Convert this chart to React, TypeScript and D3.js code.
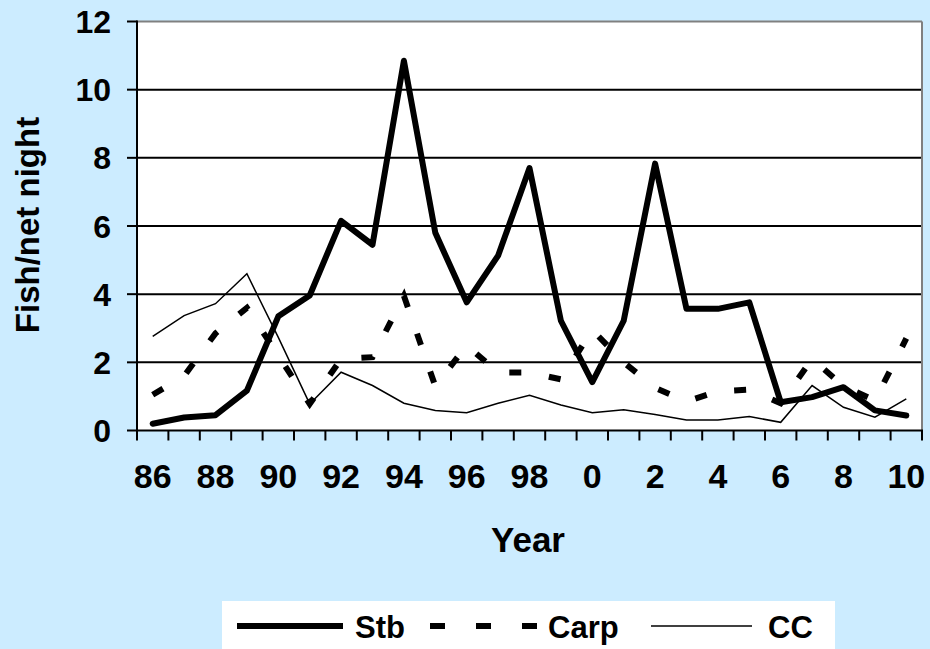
import React from "react";
import * as d3 from "d3";

const years = ["86","87","88","89","90","91","92","93","94","95","96","97","98","99","0","1","2","3","4","5","6","7","8","9","10"];
const tickYears = ["86","88","90","92","94","96","98","0","2","4","6","8","10"];
const stb = [0.2, 0.38, 0.45, 1.17, 3.35, 3.96, 6.15, 5.45, 10.85, 5.8, 3.76, 5.13, 7.7, 3.22, 1.42, 3.22, 7.83, 3.57, 3.57, 3.76, 0.83, 0.98, 1.27, 0.59, 0.44];
const carp = [1.05, 1.6, 2.85, 3.6, 2.2, 0.78, 2.1, 2.15, 3.95, 1.3, 2.5, 1.7, 1.7, 1.5, 2.95, 2.0, 1.25, 0.85, 1.15, 1.2, 0.8, 2.1, 1.3, 0.88, 2.7];
const cc = [2.76, 3.37, 3.72, 4.6, 2.73, 0.78, 1.71, 1.32, 0.8, 0.59, 0.52, 0.8, 1.03, 0.75, 0.52, 0.61, 0.47, 0.31, 0.31, 0.41, 0.24, 1.32, 0.68, 0.39, 0.93];
const yTicks = [0, 2, 4, 6, 8, 10, 12];

const W = 930, H = 649;
const L = 137, R = 922, T = 21.5, B = 430.5;
const FONT = "'Liberation Sans', Arial, sans-serif";

export default function App() {
  const x = d3.scaleBand<string>().domain(years).range([L, R]);
  const y = d3.scaleLinear().domain([0, 12]).range([B, T]);
  const cx = (i: number) => (x(years[i]) as number) + x.bandwidth() / 2;
  const line = d3.line<number>().x((_, i) => cx(i)).y((d) => y(d));
  const edges = years.map((yr) => x(yr) as number).concat([R]);

  return (
    <svg width={W} height={H} style={{ position: "absolute", left: 0, top: 0, display: "block" }}>
      <rect x={0} y={0} width={W} height={H} fill="#CCECFF" />
      <rect x={L} y={T} width={R - L} height={B - T} fill="#FFFFFF" />
      {yTicks.filter((t) => t > 0 && t < 12).map((t) => (
        <line key={"g" + t} x1={L} x2={R} y1={y(t)} y2={y(t)} stroke="#000" strokeWidth={2} />
      ))}
      <line x1={L} x2={R} y1={T} y2={T} stroke="#808080" strokeWidth={2} />
      <line x1={R} x2={R} y1={T} y2={B} stroke="#808080" strokeWidth={2} />
      {/* axes */}
      <line x1={L} x2={L} y1={T - 1} y2={B + 1} stroke="#000" strokeWidth={2} />
      <line x1={L - 1} x2={R + 1} y1={B} y2={B} stroke="#000" strokeWidth={2} />
      {yTicks.map((t) => (
        <g key={"y" + t}>
          <line x1={L - 10} x2={L} y1={y(t)} y2={y(t)} stroke="#000" strokeWidth={2} />
          <text x={111} y={y(t) + 11.5} textAnchor="end" fontFamily={FONT} fontWeight="bold" fontSize={32} fill="#000">{t}</text>
        </g>
      ))}
      {edges.map((e, i) => (
        <line key={"xt" + i} x1={e} x2={e} y1={B} y2={B + 10} stroke="#000" strokeWidth={2} />
      ))}
      {tickYears.map((t) => (
        <text key={"xl" + t} x={(x(t) as number) + x.bandwidth() / 2} y={488} textAnchor="middle" fontFamily={FONT} fontWeight="bold" fontSize={34} fill="#000">{t}</text>
      ))}
      <text x={528} y={552} textAnchor="middle" fontFamily={FONT} fontWeight="bold" fontSize={35} fill="#000">Year</text>
      <text transform={`translate(39,225) rotate(-90)`} textAnchor="middle" fontFamily={FONT} fontWeight="bold" fontSize={33} fill="#000">Fish/net night</text>

      {/* series */}
      <path d={line(cc) || ""} fill="none" stroke="#000" strokeWidth={1.5} strokeLinejoin="miter" />
      <path d={line(carp) || ""} fill="none" stroke="#000" strokeWidth={6} strokeDasharray="12,28" strokeLinejoin="miter" />
      <path d={line(stb) || ""} fill="none" stroke="#000" strokeWidth={6} strokeLinejoin="round" strokeLinecap="round" />

      {/* legend */}
      <rect x={222} y={601} width={613} height={60} fill="#FFFFFF" />
      <line x1={237} x2={343} y1={626} y2={626} stroke="#000" strokeWidth={6} />
      <text x={355} y={638} fontFamily={FONT} fontWeight="bold" fontSize={31} fill="#000">Stb</text>
      <line x1={430} x2={537} y1={626} y2={626} stroke="#000" strokeWidth={6} strokeDasharray="15,31" />
      <text x={548} y={638} fontFamily={FONT} fontWeight="bold" fontSize={31} fill="#000">Carp</text>
      <line x1={651} x2={752} y1={626} y2={626} stroke="#000" strokeWidth={1.5} />
      <text x={768} y={638} fontFamily={FONT} fontWeight="bold" fontSize={31} fill="#000">CC</text>
    </svg>
  );
}
